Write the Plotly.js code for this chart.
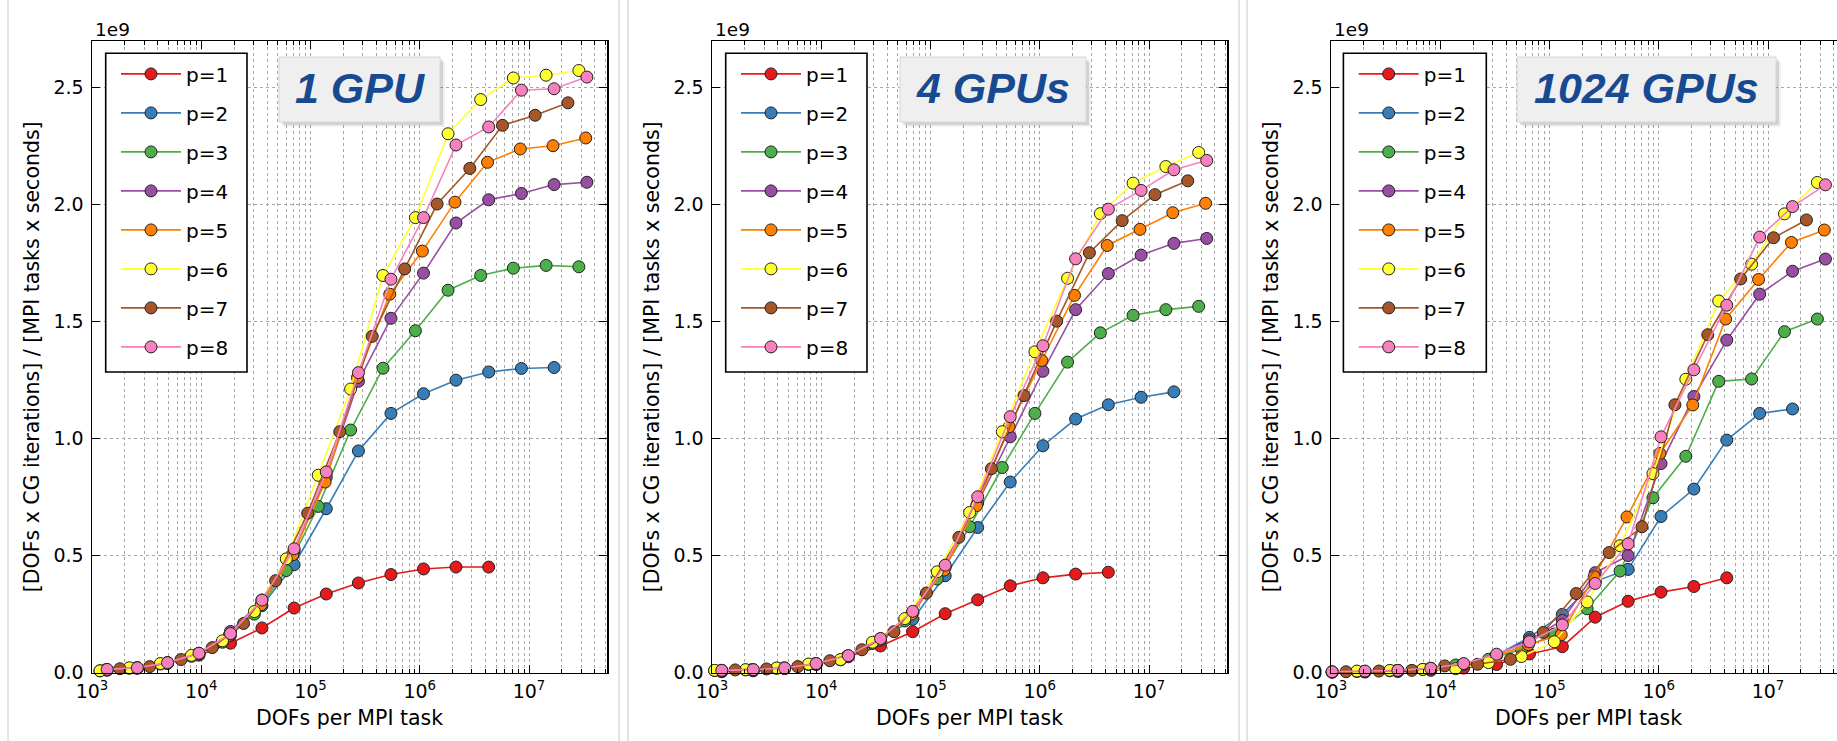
<!DOCTYPE html>
<html><head><meta charset="utf-8">
<script src="https://cdn.plot.ly/plotly-3.0.1.min.js"></script>
<style>html,body{margin:0;padding:0;overflow:hidden;background:#fff;width:1837px;height:741px}#chart{width:1860px;height:741px}</style>
</head><body><div id="chart"></div><script>
// ---------- DATA ----------
const panelTitles = ['1 GPU', '4 GPUs', '1024 GPUs'];
const seriesNames = ['p=1','p=2','p=3','p=4','p=5','p=6','p=7','p=8'];

// DOFs per MPI task (x values), 1 GPU
const dofsA_1gpu = [1377, 2601, 4913, 9537, 18513, 35937, 70785, 139425, 274625, 545025, 1082401, 2146689, 4276737, 8520321, 16974593, 33883137];
const dofsB_1gpu = [1183, 2197, 4225, 8125, 15625, 30625, 60025, 117649, 232897, 461041, 912673, 1815937, 3613153, 7189057, 14340865, 28607425];
const dofsC_1gpu = [1800, 3375, 6525, 12615, 24389, 47937, 94221, 185193, 367137, 727833, 1442897, 2873025, 5720625, 11390625, 22730625];
const dofsD_1gpu = [1331, 2541, 4851, 9261, 18081, 35301, 68921, 136161, 269001, 531441, 1056321, 2099601, 4173281, 8320641, 16589601, 33076161];
// 4 GPUs
const dofsA_4gpu = [1228, 2384, 4628, 8984, 17696, 34856, 68656, 136256, 270416, 536672, 1069184, 2130080, 4243648, 8470784, 16908608, 33751424];
const dofsB_4gpu = [1056, 2031, 3906, 7656, 15006, 29412, 58224, 115258, 228168, 453984, 903288, 1797264, 3585216, 7151856, 14266656, 28496256];
const dofsC_4gpu = [1631, 3154, 6097, 11985, 23555, 46298, 91784, 181958, 360724, 718256, 1430156, 2847656, 5682656, 11340056, 22629712];
const dofsD_4gpu = [1213, 2315, 4520, 8825, 17230, 34040, 67250, 132860, 264080, 524900, 1043320, 2080160, 4147400, 8268040, 16512320, 32973200];
// 1024 GPUs
const dofsA_1024 = [1024, 2048, 4096, 8192, 16384, 32768, 65536, 131072, 262144, 524288, 1048576, 2097152, 4194304, 8388608, 16777216, 33554432];
const dofsB_1024 = [1728, 3456, 6912, 13824, 27648, 55296, 110592, 221184, 442368, 884736, 1769472, 3538944, 7077888, 14155776, 28311552];
const dofsC_1024 = [1372, 2744, 5488, 10976, 21952, 43904, 87808, 175616, 351232, 702464, 1404928, 2809856, 5619712, 11239424, 22478848];
const dofsD_1024 = [2000, 4000, 8000, 16000, 32000, 64000, 128000, 256000, 512000, 1024000, 2048000, 4096000, 8192000, 16384000, 32768000];

// throughput in units of 1e9: [DOFs x CG iterations] / [MPI tasks x seconds]
const perf_1gpu_p1 = [0.011, 0.02, 0.04, 0.075, 0.126, 0.191, 0.276, 0.336, 0.383, 0.419, 0.443, 0.451, 0.451];
const perf_1gpu_p2 = [0.012, 0.02, 0.042, 0.08, 0.16, 0.286, 0.461, 0.70, 0.947, 1.107, 1.191, 1.249, 1.284, 1.299, 1.303];
const perf_1gpu_p3 = [0.008, 0.019, 0.037, 0.07, 0.13, 0.25, 0.436, 0.71, 1.036, 1.30, 1.46, 1.633, 1.696, 1.727, 1.739, 1.733];
const perf_1gpu_p4 = [0.013, 0.021, 0.043, 0.083, 0.176, 0.31, 0.52, 0.835, 1.244, 1.513, 1.706, 1.92, 2.019, 2.046, 2.084, 2.094];
const perf_1gpu_p5 = [0.012, 0.02, 0.04, 0.08, 0.16, 0.29, 0.504, 0.814, 1.26, 1.616, 1.80, 2.009, 2.179, 2.236, 2.25, 2.283];
const perf_1gpu_p6 = [0.008, 0.021, 0.039, 0.074, 0.136, 0.261, 0.486, 0.843, 1.211, 1.696, 1.943, 2.301, 2.447, 2.539, 2.551, 2.571];
const perf_1gpu_p7 = [0.017, 0.026, 0.056, 0.107, 0.21, 0.393, 0.681, 1.029, 1.436, 1.724, 2.001, 2.153, 2.337, 2.38, 2.433];
const perf_1gpu_p8 = [0.014, 0.021, 0.043, 0.083, 0.167, 0.31, 0.529, 0.857, 1.281, 1.68, 1.943, 2.253, 2.33, 2.487, 2.493, 2.543];

const perf_4gpu_p1 = [0.004, 0.008, 0.018, 0.035, 0.068, 0.114, 0.175, 0.252, 0.311, 0.371, 0.405, 0.421, 0.429];
const perf_4gpu_p2 = [0.008, 0.01, 0.018, 0.037, 0.07, 0.14, 0.228, 0.414, 0.62, 0.814, 0.969, 1.083, 1.144, 1.176, 1.199];
const perf_4gpu_p3 = [0.009, 0.012, 0.019, 0.035, 0.055, 0.125, 0.221, 0.40, 0.623, 0.876, 1.107, 1.326, 1.451, 1.526, 1.55, 1.564];
const perf_4gpu_p4 = [0.01, 0.013, 0.02, 0.039, 0.072, 0.145, 0.255, 0.45, 0.725, 1.007, 1.287, 1.55, 1.704, 1.783, 1.833, 1.854];
const perf_4gpu_p5 = [0.01, 0.013, 0.02, 0.038, 0.07, 0.14, 0.25, 0.438, 0.713, 1.05, 1.333, 1.611, 1.824, 1.893, 1.964, 2.004];
const perf_4gpu_p6 = [0.01, 0.013, 0.02, 0.037, 0.056, 0.13, 0.231, 0.431, 0.684, 1.029, 1.37, 1.684, 1.96, 2.09, 2.161, 2.221];
const perf_4gpu_p7 = [0.012, 0.016, 0.026, 0.051, 0.098, 0.175, 0.34, 0.578, 0.871, 1.183, 1.501, 1.793, 1.93, 2.041, 2.1];
const perf_4gpu_p8 = [0.01, 0.013, 0.02, 0.039, 0.073, 0.146, 0.262, 0.459, 0.751, 1.093, 1.396, 1.767, 1.979, 2.059, 2.147, 2.187];

const perf_1024_p1 = [0.002, 0.003, 0.005, 0.01, 0.02, 0.035, 0.08, 0.111, 0.237, 0.305, 0.344, 0.368, 0.405];
const perf_1024_p2 = [0.003, 0.005, 0.009, 0.018, 0.035, 0.075, 0.151, 0.249, 0.39, 0.441, 0.667, 0.784, 0.993, 1.107, 1.126];
const perf_1024_p3 = [0.005, 0.008, 0.014, 0.033, 0.057, 0.1, 0.165, 0.273, 0.434, 0.747, 0.924, 1.244, 1.254, 1.456, 1.51];
const perf_1024_p4 = [0.003, 0.005, 0.009, 0.018, 0.037, 0.075, 0.14, 0.223, 0.427, 0.5, 0.893, 1.179, 1.42, 1.616, 1.714, 1.766];
const perf_1024_p5 = [0.005, 0.009, 0.017, 0.035, 0.07, 0.12, 0.162, 0.41, 0.665, 0.936, 1.143, 1.51, 1.679, 1.837, 1.89];
const perf_1024_p6 = [0.007, 0.01, 0.014, 0.017, 0.043, 0.069, 0.132, 0.302, 0.542, 0.85, 1.253, 1.587, 1.744, 1.959, 2.093];
const perf_1024_p7 = [0.004, 0.007, 0.01, 0.029, 0.036, 0.057, 0.172, 0.338, 0.513, 0.623, 1.144, 1.443, 1.681, 1.857, 1.933];
const perf_1024_p8 = [0.004, 0.007, 0.01, 0.019, 0.039, 0.079, 0.132, 0.204, 0.381, 0.55, 1.007, 1.293, 1.569, 1.86, 1.99, 2.083];

const xTickVals = [1e3, 1e4, 1e5, 1e6, 1e7];
const xTickText = ['10<sup>3</sup>','10<sup>4</sup>','10<sup>5</sup>','10<sup>6</sup>','10<sup>7</sup>'];
const yTickVals = [0, 0.5, 1.0, 1.5, 2.0, 2.5];
const yTickText = ['0.0','0.5','1.0','1.5','2.0','2.5'];

// ---------- BUILD ----------
const panels = [
  {xs:[dofsA_1gpu,dofsA_1gpu,dofsB_1gpu,dofsA_1gpu,dofsD_1gpu,dofsB_1gpu,dofsC_1gpu,dofsA_1gpu],
   ys:[perf_1gpu_p1,perf_1gpu_p2,perf_1gpu_p3,perf_1gpu_p4,perf_1gpu_p5,perf_1gpu_p6,perf_1gpu_p7,perf_1gpu_p8]},
  {xs:[dofsA_4gpu,dofsA_4gpu,dofsB_4gpu,dofsA_4gpu,dofsD_4gpu,dofsB_4gpu,dofsC_4gpu,dofsA_4gpu],
   ys:[perf_4gpu_p1,perf_4gpu_p2,perf_4gpu_p3,perf_4gpu_p4,perf_4gpu_p5,perf_4gpu_p6,perf_4gpu_p7,perf_4gpu_p8]},
  {xs:[dofsA_1024,dofsA_1024,dofsB_1024,dofsA_1024,dofsD_1024,dofsB_1024,dofsC_1024,dofsA_1024],
   ys:[perf_1024_p1,perf_1024_p2,perf_1024_p3,perf_1024_p4,perf_1024_p5,perf_1024_p6,perf_1024_p7,perf_1024_p8]}
];

const COLORS = ['#e41a1c','#377eb8','#4daf4a','#984ea3','#ff7f00','#ffff33','#a65628','#f781bf'];
const W = 1860, H = 741;
const plotLeft = [92, 712, 1331], plotW = 515, plotTop = 41, plotBot = 672.7;
const legendBox = [[105.7, 53.3, 247, 372], [725.7, 53.3, 867, 372], [1343.4, 53.3, 1486.3, 372]];
const titleBox = [[279, 57, 440, 122], [900, 57, 1086, 122], [1517, 57, 1776, 122]];
const XMAX = 7.714, YMAX = 2.697;
const FONT = 'DejaVu Sans, Verdana, sans-serif';

const minorVals = [];
for (let d = 3; d <= 7; d++) for (let k = 2; k <= 9; k++) {
  const v = k * Math.pow(10, d);
  if (Math.log10(v) < XMAX) minorVals.push(v);
}

const traces = [];
panels.forEach((pn, i) => {
  const sfx = i === 0 ? '' : String(i + 1);
  pn.ys.forEach((yv, k) => {
    traces.push({
      type: 'scatter', mode: 'lines+markers',
      x: pn.xs[k].slice(0, yv.length), y: yv,
      xaxis: 'x' + sfx, yaxis: 'y' + sfx,
      name: seriesNames[k],
      legend: 'legend' + sfx, legendgroup: 'g' + i + '_' + k,
      line: {color: COLORS[k], width: 1.6},
      marker: {size: 12, color: COLORS[k], line: {color: '#222', width: 1}},
      cliponaxis: false
    });
  });
});

const gridC = '#a8a8a8';
const layout = {
  width: W, height: H, margin: {l: 0, r: 0, t: 0, b: 0},
  paper_bgcolor: '#fff', plot_bgcolor: '#fff',
  font: {family: FONT, color: '#000'},
  annotations: [], shapes: []
};

for (let i = 0; i < 3; i++) {
  const sfx = i === 0 ? '' : String(i + 1);
  const L = plotLeft[i];
  layout['xaxis' + sfx] = {
    domain: [L / W, (L + plotW) / W], anchor: 'y' + sfx,
    type: 'log', range: [3, XMAX],
    tickmode: 'array', tickvals: xTickVals, ticktext: xTickText,
    ticks: 'inside', ticklen: 8, tickwidth: 1, tickcolor: '#000', ticklabelstandoff: 1,
    showline: true, linecolor: '#000', linewidth: 1.5, mirror: 'allticks',
    showgrid: true, gridcolor: gridC, griddash: 'dot', gridwidth: 1,
    zeroline: false, automargin: false,
    tickfont: {family: FONT, size: 19, color: '#000'},
    title: {text: 'DOFs per MPI task', font: {family: FONT, size: 20.5, color: '#000'}, standoff: 9.5},
    minor: {tickmode: 'array', tickvals: minorVals, ticks: 'inside', ticklen: 4, tickcolor: '#000',
            showgrid: true, gridcolor: gridC, griddash: 'dot', gridwidth: 1}
  };
  layout['yaxis' + sfx] = {
    domain: [1 - plotBot / H, 1 - plotTop / H], anchor: 'x' + sfx,
    range: [0, YMAX],
    tickmode: 'array', tickvals: yTickVals, ticktext: yTickText,
    ticks: 'inside', ticklen: 8, tickwidth: 1, tickcolor: '#000', ticklabelstandoff: 3,
    showline: true, linecolor: '#000', linewidth: 1.5, mirror: 'allticks',
    showgrid: true, gridcolor: gridC, griddash: 'dot', gridwidth: 1,
    zeroline: false, automargin: false,
    tickfont: {family: FONT, size: 19, color: '#000'},
    title: {text: '[DOFs x CG iterations] / [MPI tasks x seconds]', font: {family: FONT, size: 20.5, color: '#000'}, standoff: 8}
  };
  // legend frame (white box with black border), legend entries drawn on top
  const lb = legendBox[i];
  layout.shapes.push({type: 'rect', xref: 'paper', yref: 'paper', layer: 'above',
    x0: lb[0] / W, x1: lb[2] / W, y0: 1 - lb[3] / H, y1: 1 - lb[1] / H,
    fillcolor: '#fff', line: {color: '#000', width: 1.6}});
  layout['legend' + sfx] = {
    x: (lb[0] + 10.3) / W, y: 1 - 54.4 / H, xanchor: 'left', yanchor: 'top',
    bgcolor: 'rgba(0,0,0,0)', borderwidth: 0,
    font: {family: FONT, size: 20, color: '#000'},
    itemwidth: 60, tracegroupgap: 10, traceorder: 'grouped'
  };
  // 1e9 offset label
  layout.annotations.push({
    xref: 'paper', yref: 'paper', x: (L + 0.5) / W, y: 1 - 29 / H,
    xanchor: 'left', yanchor: 'middle', showarrow: false,
    text: '1e9', font: {family: FONT, size: 18.5, color: '#000'}
  });
  // title box with soft shadow
  const b = titleBox[i];
  layout.shapes.push({type: 'rect', xref: 'paper', yref: 'paper', layer: 'above',
    x0: (b[0] + 5) / W, x1: (b[2] + 5) / W, y0: 1 - (b[3] + 5) / H, y1: 1 - (b[1] + 5) / H,
    fillcolor: 'rgba(0,0,0,0.06)', line: {width: 0}});
  layout.shapes.push({type: 'rect', xref: 'paper', yref: 'paper', layer: 'above',
    x0: (b[0] + 3) / W, x1: (b[2] + 3) / W, y0: 1 - (b[3] + 3) / H, y1: 1 - (b[1] + 3) / H,
    fillcolor: 'rgba(0,0,0,0.12)', line: {width: 0}});
  layout.shapes.push({type: 'rect', xref: 'paper', yref: 'paper', layer: 'above',
    x0: b[0] / W, x1: b[2] / W, y0: 1 - b[3] / H, y1: 1 - b[1] / H,
    fillcolor: '#efefef', line: {color: '#d6d6d6', width: 1}});
  layout.annotations.push({
    xref: 'paper', yref: 'paper', x: (b[0] + b[2]) / 2 / W, y: 1 - 88.5 / H,
    xanchor: 'center', yanchor: 'middle', showarrow: false,
    text: '<b><i>' + panelTitles[i] + '</i></b>',
    font: {family: 'Liberation Sans, Arial, sans-serif', size: 43, color: '#174a90'}
  });
}
// thin frame lines of the three side-by-side figures
[8, 619, 628, 1239, 1247].forEach(xp => {
  layout.shapes.push({type: 'line', xref: 'paper', yref: 'paper', layer: 'below',
    x0: xp / W, x1: xp / W, y0: 0, y1: 1, line: {color: '#c8c8c8', width: 1}});
});

Plotly.newPlot('chart', traces, layout, {staticPlot: true, displayModeBar: false});
</script></body></html>
